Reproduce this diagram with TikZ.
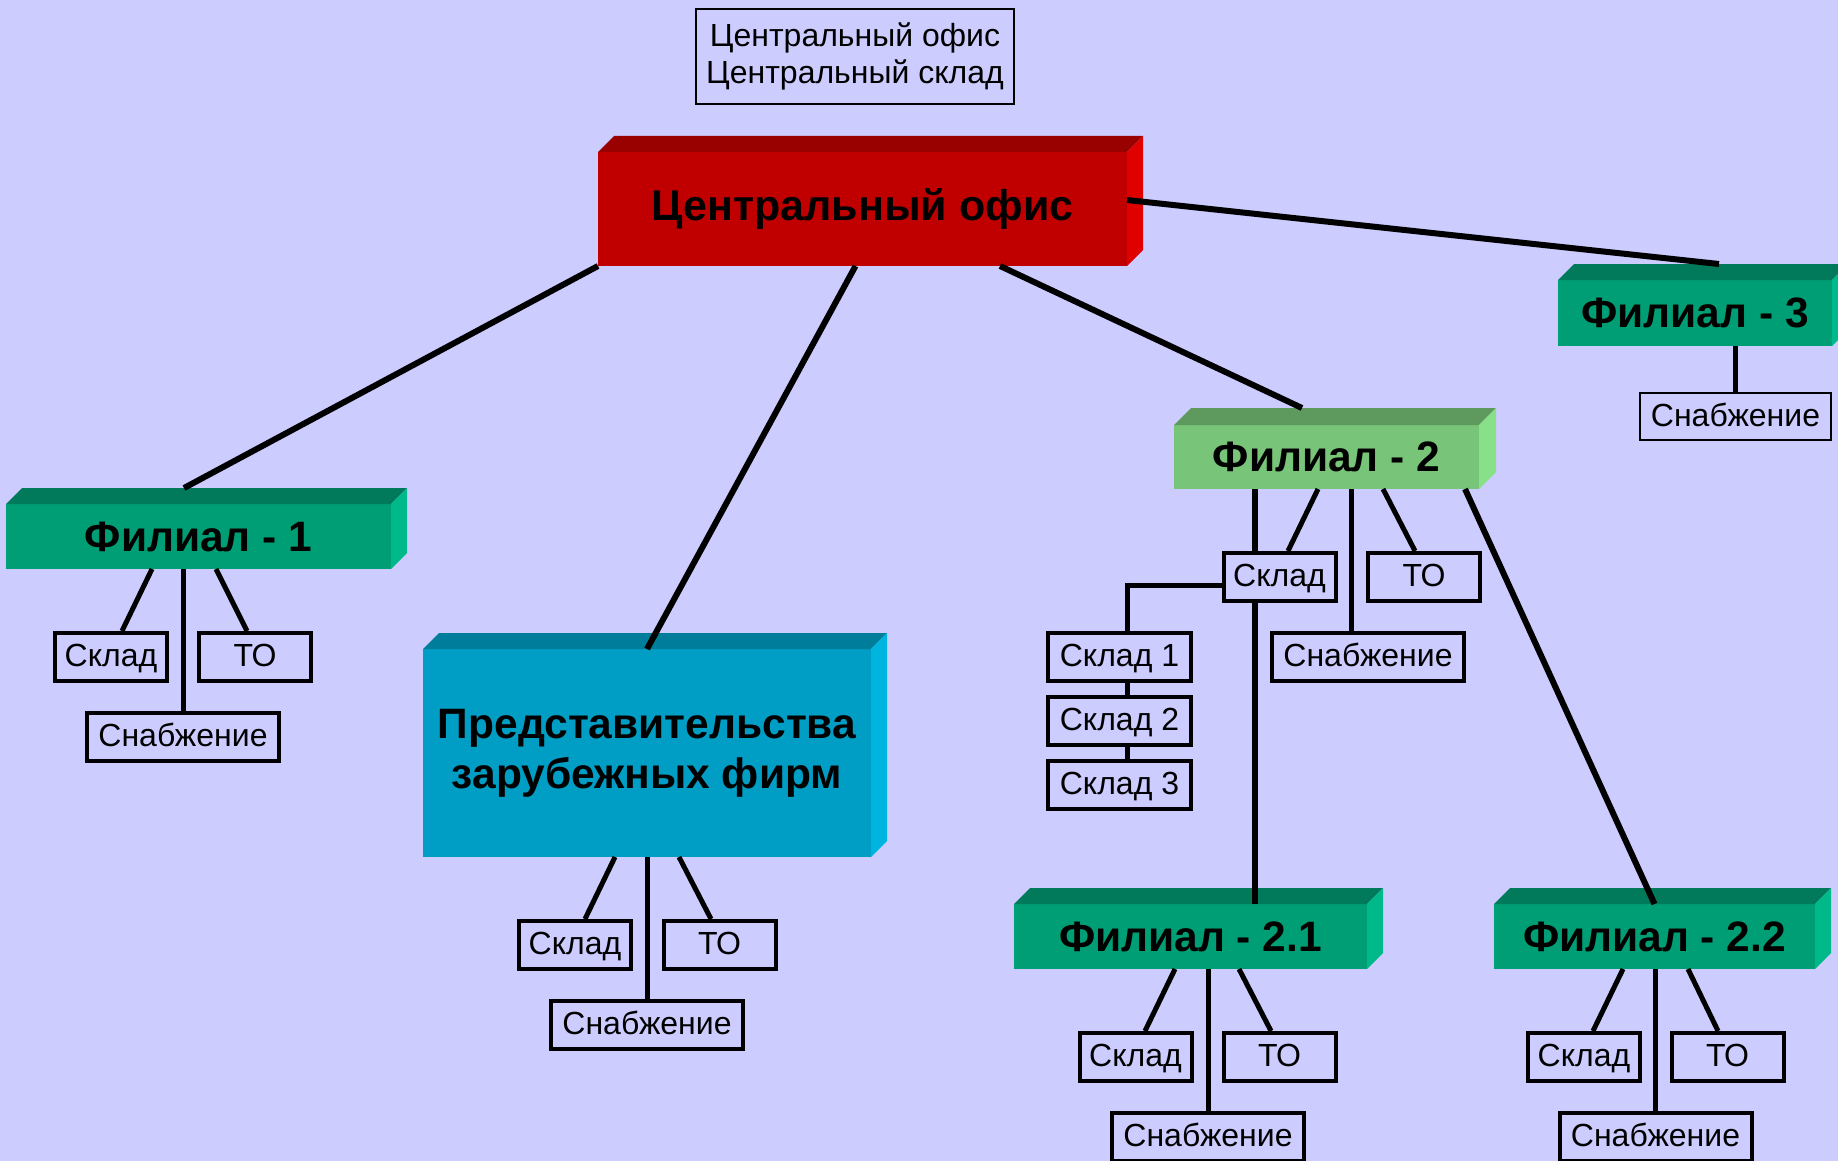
\documentclass[tikz,border=0pt]{standalone}
\usepackage{fontspec}
\setmainfont{Liberation Sans}
\usetikzlibrary{calc}
\definecolor{bgblue}{HTML}{CCCCFF}
\definecolor{officefront}{HTML}{C00000}
\definecolor{officetop}{HTML}{990000}
\definecolor{officeside}{HTML}{E00000}
\definecolor{branchfront}{HTML}{009E74}
\definecolor{branchtop}{HTML}{007A5A}
\definecolor{branchside}{HTML}{00B98A}
\definecolor{lightfront}{HTML}{78C478}
\definecolor{lighttop}{HTML}{5E9A5E}
\definecolor{lightside}{HTML}{88E088}
\definecolor{agencyfront}{HTML}{009EC4}
\definecolor{agencytop}{HTML}{007D9A}
\definecolor{agencyside}{HTML}{00B4E0}
\tikzstyle{node:note}=[draw, line width=2pt, inner sep=0pt, minimum width=318pt, minimum height=95pt, align=center, font=\fontsize{32}{37}\selectfont]
\tikzstyle{node:office}=[fill=officefront, inner sep=0pt, outer sep=0pt, minimum width=529pt, minimum height=114pt, font=\bfseries\fontsize{43}{50}\selectfont]
\tikzstyle{node:branch}=[fill=branchfront, inner sep=0pt, outer sep=0pt, minimum height=65pt, font=\bfseries\fontsize{42.5}{50}\selectfont]
\tikzstyle{node:branchlight}=[node:branch, fill=lightfront]
\tikzstyle{node:agency}=[fill=agencyfront, inner sep=0pt, outer sep=0pt, minimum width=448pt, minimum height=208pt, align=center, font=\bfseries\fontsize{42.5}{50}\selectfont]
\tikzstyle{node:unit}=[draw, line width=4pt, inner sep=0pt, minimum width=112pt, minimum height=48pt, text height=24pt, text depth=5pt, font=\fontsize{32}{37}\selectfont]
\tikzstyle{node:unitwide}=[node:unit, minimum width=192pt]
\tikzstyle{draw:trunk}=[line width=6pt]
\tikzstyle{draw:twig}=[line width=5pt]
% top and side faces of a box: node, depth, top colour, side colour
\newcommand{\drawbevel}[4]{%
  \fill[#3] (#1.north west) -- ++(#2,-#2) -- ($(#1.north east)+(#2,-#2)$) -- (#1.north east) -- cycle;
  \fill[#4] (#1.north east) -- ++(#2,-#2) -- ($(#1.south east)+(#2,-#2)$) -- (#1.south east) -- cycle;}
\begin{document}
\begin{tikzpicture}[x=1pt,y=-1pt]
        \fill[bgblue] (0,0) rectangle (1838,1161);
        \useasboundingbox (0,0) rectangle (1838,1161);

        % Head office
        \node[node:note] (note) at (855,56.5) {Центральный офис\\Центральный склад};
        \node[node:office] (office) at (862.5,209) {Центральный офис};
        \drawbevel{office}{16}{officetop}{officeside}

        % Branches
        \node[node:branch, minimum width=385pt] (fil1) at (198.5,536.5) {Филиал - 1};
        \node[node:branchlight, minimum width=305pt, minimum height=64pt] (fil2) at (1326.5,457) {Филиал - 2};
        \node[node:branch, minimum width=274pt, minimum height=66pt] (fil3) at (1695,313) {Филиал - 3};
        \node[node:branch, minimum width=353pt] (fil21) at (1190.5,936.5) {Филиал - 2.1};
        \node[node:branch, minimum width=321pt] (fil22) at (1654.5,936.5) {Филиал - 2.2};
        \node[node:agency] (rep) at (647,753) {Представительства\\зарубежных фирм};
        \drawbevel{fil1}{16}{branchtop}{branchside}
        \drawbevel{fil2}{17}{lighttop}{lightside}
        \drawbevel{fil3}{16}{branchtop}{branchside}
        \drawbevel{fil21}{16}{branchtop}{branchside}
        \drawbevel{fil22}{16}{branchtop}{branchside}
        \drawbevel{rep}{16}{agencytop}{agencyside}

        % Units of branch 1
        \node[node:unit] (fil1sklad) at (111,657) {Склад};
        \node[node:unit] (fil1to) at (255,657) {ТО};
        \node[node:unitwide] (fil1snab) at (183,737) {Снабжение};

        % Units of the representative offices
        \node[node:unit] (repsklad) at (575,945) {Склад};
        \node[node:unit] (repto) at (719.5,945) {ТО};
        \node[node:unitwide] (repsnab) at (647,1025) {Снабжение};

        % Units of branch 2
        \node[node:unit] (fil2sklad) at (1279.5,577) {Склад};
        \node[node:unit] (fil2to) at (1424,577) {ТО};
        \node[node:unitwide] (fil2snab) at (1368,657) {Снабжение};
        \node[node:unit, minimum width=143pt] (fil2skladA) at (1119.5,657) {Склад 1};
        \node[node:unit, minimum width=143pt] (fil2skladB) at (1119.5,720.5) {Склад 2};
        \node[node:unit, minimum width=143pt] (fil2skladC) at (1119.5,784.5) {Склад 3};

        % Units of branch 2.1
        \node[node:unit] (fil21sklad) at (1135.5,1057) {Склад};
        \node[node:unit] (fil21to) at (1279.5,1057) {ТО};
        \node[node:unitwide] (fil21snab) at (1208,1137) {Снабжение};

        % Units of branch 2.2
        \node[node:unit] (fil22sklad) at (1584,1057) {Склад};
        \node[node:unit] (fil22to) at (1727.5,1057) {ТО};
        \node[node:unitwide] (fil22snab) at (1655.5,1137) {Снабжение};

        % Units of branch 3
        \node[node:unit, line width=2pt, minimum width=191pt, minimum height=47pt] (fil3snab) at (1735.5,416.5) {Снабжение};

        % Lines from the head office
        \draw[draw:trunk] (office.south west) -- ($(fil1.north)+(-14.5,-16)$);
        \draw[draw:trunk] ($(office.south)+(-7,0)$) -- (rep.north);
        \draw[draw:trunk] ($(office.south)+(137.5,0)$) -- ($(fil2.north)+(-24.5,-17)$);
        \draw[draw:trunk] ($(office.east)+(0,-9)$) -- ($(fil3.north)+(24,-16)$);

        % Lines of branch 1
        \draw[draw:twig] ($(fil1snab.north |- fil1.south)+(-31,0)$) -- ($(fil1sklad.north)+(11,0)$);
        \draw[draw:twig] (fil1snab.north |- fil1.south) -- (fil1snab.north);
        \draw[draw:twig] ($(fil1snab.north |- fil1.south)+(33,0)$) -- ($(fil1to.north)+(-8,0)$);

        % Lines of the representative offices
        \draw[draw:twig] ($(repsnab.north |- rep.south)+(-32,0)$) -- ($(repsklad.north)+(10,0)$);
        \draw[draw:twig] (repsnab.north |- rep.south) -- (repsnab.north);
        \draw[draw:twig] ($(repsnab.north |- rep.south)+(32,0)$) -- ($(repto.north)+(-8.5,0)$);

        % Lines of branch 2
        \coordinate (fil2trunk) at (1255,0);
        \draw[draw:trunk] (fil2trunk |- fil2.south) -- (fil2trunk |- fil2sklad.north);
        \draw[draw:trunk] (fil2trunk |- fil2sklad.south) -- (fil2trunk |- fil21.north);
        \draw[draw:twig] ($(fil2.south)+(-8.5,0)$) -- ($(fil2sklad.north)+(8.5,0)$);
        \draw[draw:twig] ($(fil2snab.north |- fil2.south)+(-17,0)$) -- ($(fil2snab.north)+(-17,0)$);
        \draw[draw:twig] ($(fil2.south)+(56.5,0)$) -- ($(fil2to.north)+(-9,0)$);
        \draw[draw:trunk] ($(fil2.south)+(138.5,0)$) -- (fil22.north);
        \draw[draw:twig] ($(fil2sklad.west)+(0,8)$) -| ($(fil2skladA.north)+(7.5,0)$);
        \draw[draw:twig] ($(fil2skladA.south)+(7.5,0)$) -- ($(fil2skladB.north)+(7.5,0)$);
        \draw[draw:twig] ($(fil2skladB.south)+(7.5,0)$) -- ($(fil2skladC.north)+(7.5,0)$);

        % Lines of branch 2.1
        \draw[draw:twig] ($(fil21snab.north |- fil21.south)+(-33,0)$) -- ($(fil21sklad.north)+(9.5,0)$);
        \draw[draw:twig] (fil21snab.north |- fil21.south) -- (fil21snab.north);
        \draw[draw:twig] ($(fil21snab.north |- fil21.south)+(31,0)$) -- ($(fil21to.north)+(-8.5,0)$);

        % Lines of branch 2.2
        \draw[draw:twig] ($(fil22snab.north |- fil22.south)+(-32.5,0)$) -- ($(fil22sklad.north)+(9,0)$);
        \draw[draw:twig] (fil22snab.north |- fil22.south) -- (fil22snab.north);
        \draw[draw:twig] ($(fil22snab.north |- fil22.south)+(32.5,0)$) -- ($(fil22to.north)+(-9.5,0)$);

        % Line of branch 3
        \draw[draw:twig] (fil3snab.north |- fil3.south) -- (fil3snab.north);

    \end{tikzpicture}
\end{document}
